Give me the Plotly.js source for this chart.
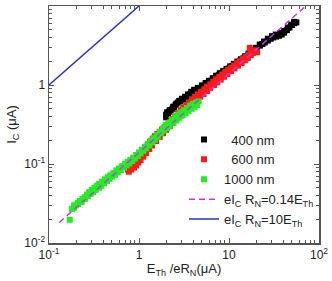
<!DOCTYPE html>
<html><head><meta charset="utf-8">
<script src="https://cdn.plot.ly/plotly-3.0.1.min.js"></script>
<style>html,body{margin:0;padding:0;background:#fff}#c{width:332px;height:281px}</style>
</head><body><div id="c"></div>
<script>
// 400 nm
const x400 = [2.0,2.0,2.1,2.15,2.25,2.35,2.45,2.55,2.7,2.85,3.0,3.15,3.3,3.5,3.7,3.9,4.1,4.35,4.6,4.9,5.2,5.5,5.9,6.3,6.7,7.2,7.7,8.2,8.8,9.4,10.1,10.8,11.6,12.5,13.4,14.4,15.5,16.6,17.8,19.1,20.5,22,23.5,25,27,29,31,33.5,36,38.5,41,44,47,50,53,56,
  2.05,2.2,2.4,2.6,2.8,3.0,3.25,3.5,3.8,4.1,4.5,5.0,5.5,6.0,6.6,7.2,7.9,8.6,9.4,10.3,11.3,12.4,13.6,15,16.5,18,20,22,24.5,27,30,33,37,41,45,49,53];
const y400 = [0.39,0.42,0.44,0.46,0.48,0.5,0.53,0.56,0.6,0.62,0.64,0.66,0.68,0.72,0.76,0.8,0.83,0.86,0.89,0.92,0.96,1.01,1.07,1.13,1.19,1.26,1.33,1.4,1.48,1.56,1.64,1.72,1.82,1.93,2.05,2.17,2.3,2.43,2.58,2.75,2.95,3.15,3.3,3.45,3.65,3.85,4.0,4.1,4.2,4.35,4.6,4.95,5.35,5.75,6.05,6.2,
  0.45,0.48,0.53,0.58,0.63,0.67,0.71,0.76,0.82,0.87,0.92,0.99,1.06,1.13,1.22,1.31,1.41,1.5,1.6,1.72,1.85,1.98,2.12,2.3,2.5,2.7,2.95,3.25,3.55,3.85,4.15,4.35,4.55,4.85,5.3,5.8,6.3];
// 600 nm
const x600 = [0.75,0.78,0.8,0.83,0.86,0.9,0.95,1.0,1.05,1.1,1.17,1.25,1.33,1.42,1.5,1.6,1.7,1.8,1.92,2.05,2.2,2.35,2.5,2.7,2.9,3.1,3.35,3.6,3.9,4.2,4.5,4.9,5.3,5.7,6.2,6.7,7.2,7.8,8.4,9.1,9.8,10.6,11.4,12.3,13.2,14.2,15.3,16.4,17.0,17.6,19,20.5,
  0.77,0.82,0.88,0.93,0.98,1.04,1.12,1.2,1.3,1.4,1.55,1.7,1.85,2.0,2.2,2.4,2.6,2.85,3.1,3.4,3.7,4.0,4.4,4.8,5.2,5.7,6.2,6.8,7.4,8.1,8.8,9.6,10.5,11.5,12.6,13.8,15,16.2,17.5,18.5];
const y600 = [0.085,0.09,0.088,0.095,0.1,0.105,0.113,0.122,0.13,0.14,0.155,0.172,0.19,0.207,0.225,0.24,0.255,0.272,0.29,0.31,0.34,0.37,0.4,0.44,0.48,0.52,0.56,0.6,0.66,0.71,0.76,0.82,0.88,0.95,1.02,1.1,1.18,1.27,1.36,1.46,1.56,1.66,1.77,1.89,2.0,2.13,2.27,2.42,2.95,2.6,2.75,2.6,
  0.08,0.085,0.09,0.096,0.104,0.112,0.124,0.138,0.155,0.172,0.195,0.22,0.245,0.27,0.3,0.33,0.37,0.41,0.45,0.49,0.54,0.59,0.65,0.71,0.77,0.84,0.92,1.0,1.08,1.17,1.27,1.38,1.5,1.62,1.76,1.9,2.05,2.2,2.4,2.55];
// 1000 nm
const x1000 = [0.17,0.18,0.19,0.2,0.21,0.22,0.235,0.25,0.265,0.28,0.3,0.32,0.34,0.36,0.39,0.42,0.45,0.48,0.52,0.56,0.6,0.65,0.7,0.75,0.8,0.86,0.93,1.0,1.08,1.16,1.25,1.35,1.45,1.57,1.7,1.83,1.97,2.12,2.3,2.5,2.7,2.9,3.15,3.4,3.7,4.0,4.3,4.6,
  0.19,0.21,0.23,0.25,0.27,0.29,0.31,0.33,0.36,0.38,0.41,0.44,0.47,0.5,0.54,0.58,0.63,0.68,0.73,0.78,0.84,0.9,0.97,1.04,1.12,1.2,1.3,1.4,1.5,1.62,1.75,1.9,2.05,2.2,2.4,2.6,2.8,3.05,3.3,3.55,3.85,4.15,4.45];
const y1000 = [0.0197,0.027,0.028,0.03,0.032,0.034,0.036,0.038,0.041,0.044,0.047,0.05,0.053,0.056,0.06,0.064,0.068,0.072,0.077,0.083,0.088,0.094,0.1,0.106,0.112,0.12,0.13,0.14,0.152,0.165,0.18,0.197,0.213,0.232,0.255,0.28,0.31,0.33,0.36,0.39,0.42,0.45,0.48,0.51,0.55,0.58,0.6,0.62,
  0.03,0.031,0.033,0.036,0.039,0.042,0.044,0.047,0.05,0.053,0.057,0.061,0.065,0.069,0.073,0.078,0.084,0.09,0.096,0.102,0.109,0.117,0.126,0.136,0.147,0.158,0.172,0.188,0.203,0.222,0.245,0.265,0.285,0.305,0.33,0.355,0.385,0.41,0.44,0.47,0.5,0.53,0.56];
// eIcRn = 0.14 ETh
const fitLowX = [0.13, 72];
const fitLowY = [0.0182, 10.08];
// eIcRn = 10 ETh
const fitHighX = [0.1, 1];
const fitHighY = [1, 10];

const xTickVals = [0.1, 1, 10, 100];
const xTickText = ['10<sup>-1</sup>', '1', '10', '10<sup>2</sup>'];
const yTickVals = [0.01, 0.1, 1, 10];
const yTickText = ['10<sup>-2</sup>', '10<sup>-1</sup>', '1', '10'];

function minorVals(lo, hi) {
  const v = [];
  for (let d = lo; d < hi; d *= 10) for (let k = 2; k <= 9; k++) v.push(+(d * k).toPrecision(3));
  return v;
}

const mk = (c) => ({symbol: 'square', size: 6, color: c, line: {width: 0}});
const nb = '\u00a0';
const traces = [
  {x: x400, y: y400, mode: 'markers', name: nb + nb + '400 nm', marker: mk('#000000')},
  {x: x600, y: y600, mode: 'markers', name: nb + nb + '600 nm', marker: mk('#ff1a1a')},
  {x: x1000, y: y1000, mode: 'markers', name: '1000 nm', marker: mk('#22ee22')},
  {x: fitLowX, y: fitLowY, mode: 'lines', name: 'eI<sub>C</sub> R<sub>N</sub>=0.14E<sub>Th</sub>', line: {color: '#cc33ee', width: 1.5, dash: '6px,4px'}},
  {x: fitHighX, y: fitHighY, mode: 'lines', name: 'eI<sub>C</sub> R<sub>N</sub>=10E<sub>Th</sub>', line: {color: '#2233cc', width: 1.5}}
];

const axisCommon = {
  type: 'log', showgrid: false, zeroline: false, showline: true, linecolor: '#555', linewidth: 1.5,
  mirror: 'allticks', ticks: 'inside', ticklen: 5, tickcolor: '#555', tickwidth: 1,
  tickfont: {family: 'Liberation Sans, Arial, sans-serif', size: 12, color: '#222'}
};

const layout = {
  width: 332, height: 281,
  margin: {l: 49, r: 13, t: 6, b: 38},
  paper_bgcolor: '#fff', plot_bgcolor: '#fff',
  font: {family: 'Liberation Sans, Arial, sans-serif', color: '#222'},
  xaxis: Object.assign({}, axisCommon, {
    range: [-1, 2], tickmode: 'array', tickvals: xTickVals, ticktext: xTickText,
    minor: {ticks: 'inside', ticklen: 3, tickcolor: '#555', tickmode: 'array', tickvals: minorVals(0.1, 100)},
    title: {text: 'E<sub>Th</sub> /eR<sub>N</sub>(μA)', font: {size: 13}, standoff: 3}
  }),
  yaxis: Object.assign({}, axisCommon, {
    range: [-2, 1], tickmode: 'array', tickvals: yTickVals, ticktext: yTickText,
    minor: {ticks: 'inside', ticklen: 3, tickcolor: '#555', tickmode: 'array', tickvals: minorVals(0.01, 10)},
    title: {text: 'I<sub>C</sub> (μA)', font: {size: 13}, standoff: 4}
  }),
  showlegend: true,
  legend: {x: 0.50, y: 0.50, xanchor: 'left', yanchor: 'top', bgcolor: 'rgba(0,0,0,0)',
    font: {size: 13}, itemwidth: 30, tracegroupgap: 0}
};

Plotly.newPlot('c', traces, layout, {displayModeBar: false, staticPlot: true});
</script></body></html>
